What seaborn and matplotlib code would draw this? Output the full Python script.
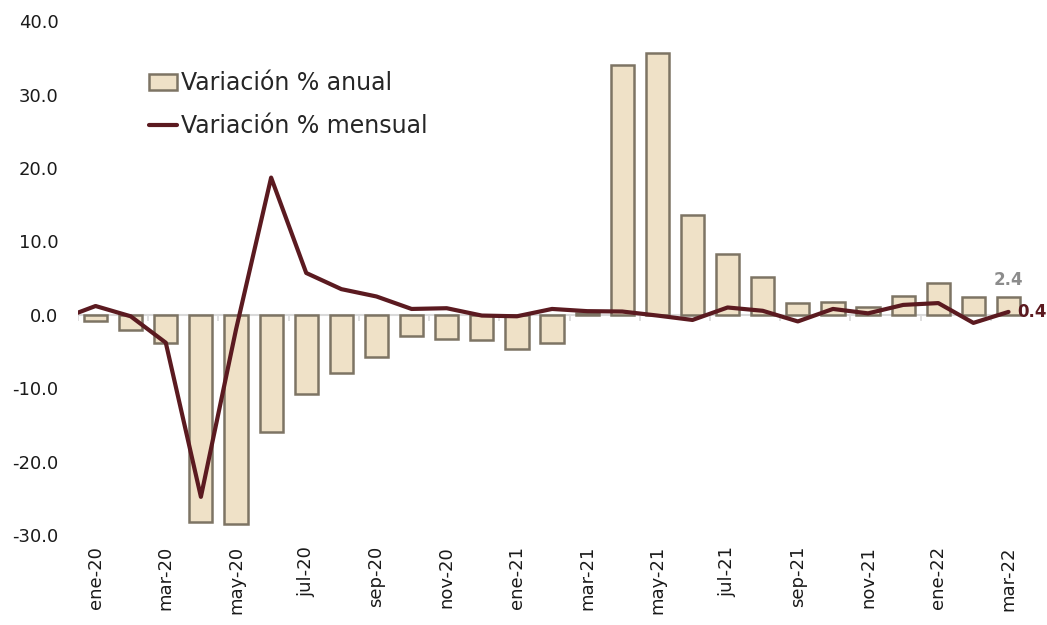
import numpy as np
import pandas as pd
import matplotlib
matplotlib.use("Agg")
import matplotlib.pyplot as plt
import seaborn as sns

# ---- data ----
months = ["ene-20", "feb-20", "mar-20", "abr-20", "may-20", "jun-20", "jul-20",
          "ago-20", "sep-20", "oct-20", "nov-20", "dic-20", "ene-21", "feb-21",
          "mar-21", "abr-21", "may-21", "jun-21", "jul-21", "ago-21", "sep-21",
          "oct-21", "nov-21", "dic-21", "ene-22", "feb-22", "mar-22"]
annual = [-0.8, -2.1, -3.9, -28.2, -28.5, -16.0, -10.8, -7.9, -5.7, -2.9, -3.3,
          -3.4, -4.7, -3.8, 0.3, 34.0, 35.7, 13.6, 8.3, 5.1, 1.6, 1.7, 1.0, 2.6,
          4.3, 2.4, 2.4]
# monthly series starts one month earlier (dic-19), partly outside the axis
monthly_months = ["dic-19"] + months
monthly = [-0.6, 1.2, -0.2, -3.8, -24.8, -2.0, 18.7, 5.7, 3.5, 2.5, 0.8, 0.9,
           -0.1, -0.2, 0.8, 0.5, 0.45, -0.1, -0.7, 1.0, 0.55, -0.9, 0.8, 0.2,
           1.35, 1.6, -1.1, 0.4]
yticks = [-30, -20, -10, 0, 10, 20, 30, 40]

sns.set_theme(style="white")
plt.rcParams["font.family"] = ["DejaVu Sans"]

bar_color = "#efe1c7"
bar_edge = "#7d7464"
line_color = "#5b1a20"

fig = plt.figure(figsize=(10.47, 6.25), dpi=100)
ax = fig.add_axes([0.0745, 0.144, 0.9055, 0.822])

df_bar = pd.DataFrame({"mes": months, "anual": annual})
sns.barplot(data=df_bar, x="mes", y="anual", order=months, color=bar_color,
            edgecolor=bar_edge, linewidth=1.8, width=0.66, saturation=1,
            ax=ax, zorder=2, label="Variación % anual")

pos = np.arange(len(monthly_months)) - 1
df_line = pd.DataFrame({"pos": pos, "mensual": monthly})
sns.lineplot(data=df_line, x="pos", y="mensual", color=line_color,
             linewidth=3, ax=ax, zorder=3, label="Variación % mensual")

ax.axhline(0, color="#d9d9d9", lw=1.5, zorder=1)
bounds = np.arange(-0.5, len(months) + 0.5, 2)
ax.vlines(bounds, -0.8, 0, color="#d9d9d9", lw=1.2, zorder=1)

ax.set_xlim(-0.5, len(months) - 0.5)
ax.set_ylim(-30, 40)
ax.set_yticks(yticks)
ax.set_yticklabels([f"{v:.1f}" for v in yticks], fontsize=13, color="#1a1a1a")
ax.set_xticks(np.arange(0, len(months), 2))
ax.set_xticklabels(months[::2], rotation=90, fontsize=13, color="#1a1a1a")
ax.tick_params(axis="y", length=0, pad=14)
ax.tick_params(axis="x", length=0, pad=8)
ax.set_xlabel("")
ax.set_ylabel("")
for s in ax.spines.values():
    s.set_visible(False)

# annotations of last values
n = len(months) - 1
ax.annotate(f"{annual[-1]:.1f}", xy=(n, annual[-1]), xytext=(0, 6),
            textcoords="offset points", ha="center", va="bottom",
            fontsize=12, fontweight="bold", color="#8c8c8c")
ax.annotate(f"{monthly[-1]:.1f}", xy=(n, monthly[-1]), xytext=(6, 0),
            textcoords="offset points", ha="left", va="center",
            fontsize=12, fontweight="bold", color=line_color)

handles, labels = ax.get_legend_handles_labels()
order = [labels.index("Variación % anual"), labels.index("Variación % mensual")]
ax.legend([handles[i] for i in order], [labels[i] for i in order],
          loc="upper left", bbox_to_anchor=(0.06, 0.93), frameon=False,
          fontsize=17, handlelength=1.2, handletextpad=0.15,
          labelspacing=0.8, borderaxespad=0.2)

fig.savefig("out.png", dpi=100)
